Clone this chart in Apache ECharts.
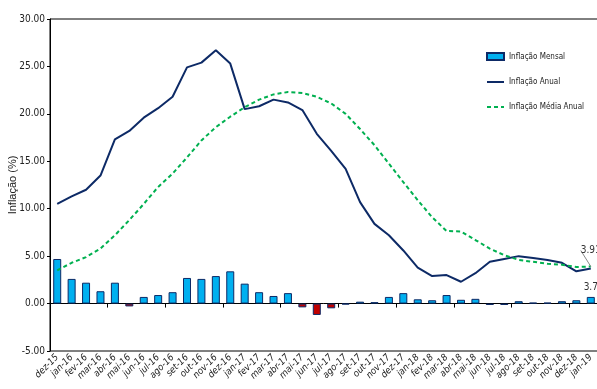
<!DOCTYPE html>
<html>
<head>
<meta charset="utf-8">
<script src="https://cdn.jsdelivr.net/npm/echarts@6/dist/echarts.min.js"></script>
<style>
  html, body { margin: 0; padding: 0; background: #fff; }
  #chart { width: 597px; height: 389px; }
</style>
</head>
<body>
<div id="chart"></div>
<script>
// Meses
const months = ['dez-15','jan-16','fev-16','mar-16','abr-16','mai-16','jun-16','jul-16','ago-16','set-16','out-16','nov-16',
  'dez-16','jan-17','fev-17','mar-17','abr-17','mai-17','jun-17','jul-17','ago-17','set-17','out-17','nov-17',
  'dez-17','jan-18','fev-18','mar-18','abr-18','mai-18','jun-18','jul-18','ago-18','set-18','out-18','nov-18',
  'dez-18','jan-19'];

// Inflação mensal (%)
const mensal = [4.7, 2.6, 2.2, 1.3, 2.2, -0.3, 0.7, 0.9, 1.2, 2.7, 2.6, 2.9,
  3.4, 2.1, 1.2, 0.8, 1.1, -0.4, -1.2, -0.5, -0.1, 0.2, 0.15, 0.7,
  1.1, 0.45, 0.35, 0.9, 0.4, 0.5, -0.15, -0.15, 0.25, 0.1, 0.1, 0.25,
  0.35, 0.7];

// Inflação anual (%)
const anual = [10.5, 11.3, 12.0, 13.5, 17.3, 18.2, 19.6, 20.6, 21.8, 24.9, 25.4, 26.7,
  25.3, 20.5, 20.8, 21.5, 21.2, 20.4, 17.9, 16.1, 14.2, 10.7, 8.4, 7.2,
  5.6, 3.8, 2.9, 3.0, 2.3, 3.2, 4.4, 4.7, 5.0, 4.8, 4.6, 4.3,
  3.4, 3.7];

// Inflação média anual (%)
const media = [3.5, 4.3, 4.9, 5.8, 7.2, 8.8, 10.5, 12.3, 13.7, 15.4, 17.2, 18.6,
  19.7, 20.7, 21.5, 22.05, 22.3, 22.2, 21.8, 21.1, 20.0, 18.4, 16.7, 14.75,
  12.8, 10.9, 9.1, 7.65, 7.6, 6.7, 5.8, 5.1, 4.6, 4.4, 4.2, 4.1,
  3.85, 3.91];

const yTicks = { min: -5, max: 30, interval: 5 };

const NAVY = '#0d2a66';
const BLUE = '#00b0f0';
const RED = '#c00000';
const GREEN = '#00b050';
const NARROW = "'DejaVu Sans Condensed', 'Liberation Sans Narrow', 'Arial Narrow', sans-serif";

const lastIdx = months.length - 1;

const barData = mensal.map(v => v < 0
  ? { value: v, itemStyle: { color: RED } }
  : v);

const anualData = anual.map((v, i) => i === lastIdx
  ? { value: v, label: { show: true, position: 'bottom', distance: 14 } }
  : v);

const mediaData = media.map((v, i) => i === lastIdx
  ? { value: v, label: { show: true, position: 'top', distance: 12 } }
  : v);

const chart = echarts.init(document.getElementById('chart'), null, { renderer: 'canvas' });

chart.setOption({
  animation: false,
  backgroundColor: '#fff',
  grid: {
    left: 50, right: -1, top: 19, bottom: 38,
    outerBoundsMode: 'none',
    containLabel: false,
    show: true, borderColor: '#000', borderWidth: 1, backgroundColor: 'transparent'
  },
  legend: {
    orient: 'vertical',
    left: 481, top: 47,
    itemWidth: 17, itemHeight: 7, itemGap: 17,
    textStyle: { fontFamily: NARROW, fontSize: 8, color: '#222' },
    data: [
      { name: 'Inflação Mensal', icon: 'rect' },
      { name: 'Inflação Anual', itemStyle: { opacity: 0 } },
      { name: 'Inflação Média Anual', itemStyle: { opacity: 0 } }
    ]
  },
  xAxis: [
    {
      type: 'category',
      data: months,
      position: 'bottom',
      axisLine: { onZero: false, show: false },
      axisTick: { show: false },
      axisLabel: {
        interval: 0, rotate: 45, margin: 5,
        fontFamily: NARROW, fontStyle: 'italic', fontSize: 9.5, color: '#222'
      }
    },
    {
      type: 'category',
      data: months,
      position: 'top',
      axisLine: { onZero: true, lineStyle: { color: '#000', width: 1 } },
      axisTick: { show: true, inside: true, length: 4, lineStyle: { color: '#000' } },
      axisLabel: { show: false }
    }
  ],
  yAxis: {
    type: 'value',
    min: yTicks.min, max: yTicks.max, interval: yTicks.interval,
    name: 'Inflação (%)',
    nameLocation: 'middle',
    nameGap: 32,
    nameMoveOverlap: false,
    nameTextStyle: { fontFamily: 'Liberation Sans, Arial, sans-serif', fontSize: 11, color: '#222' },
    axisLine: { show: true, lineStyle: { color: '#000' } },
    axisTick: { show: true, length: 3, lineStyle: { color: '#000' } },
    splitLine: { show: false },
    axisLabel: {
      fontFamily: NARROW, fontSize: 10, color: '#222', margin: 5,
      formatter: v => v.toFixed(2)
    }
  },
  series: [
    {
      name: 'Inflação Mensal',
      type: 'bar',
      xAxisIndex: 0,
      barWidth: 8,
      itemStyle: { color: BLUE, borderColor: NAVY, borderWidth: 1 },
      data: barData
    },
    {
      name: 'Inflação Anual',
      type: 'line',
      xAxisIndex: 0,
      symbol: 'circle',
      symbolSize: 0,
      lineStyle: { color: NAVY, width: 2 },
      itemStyle: { color: NAVY },
      label: { fontFamily: NARROW, fontSize: 10, color: '#333' },
      data: anualData,
      z: 3
    },
    {
      name: 'Inflação Média Anual',
      type: 'line',
      xAxisIndex: 0,
      symbol: 'circle',
      symbolSize: 0,
      lineStyle: { color: GREEN, width: 2, type: [4, 3] },
      itemStyle: { color: GREEN },
      label: { fontFamily: NARROW, fontSize: 10, color: '#333' },
      labelLine: { show: true, lineStyle: { color: '#888', width: 1 } },
      labelLayout: { dy: 1 },
      data: mediaData,
      z: 4
    }
  ]
});
</script>
</body>
</html>
